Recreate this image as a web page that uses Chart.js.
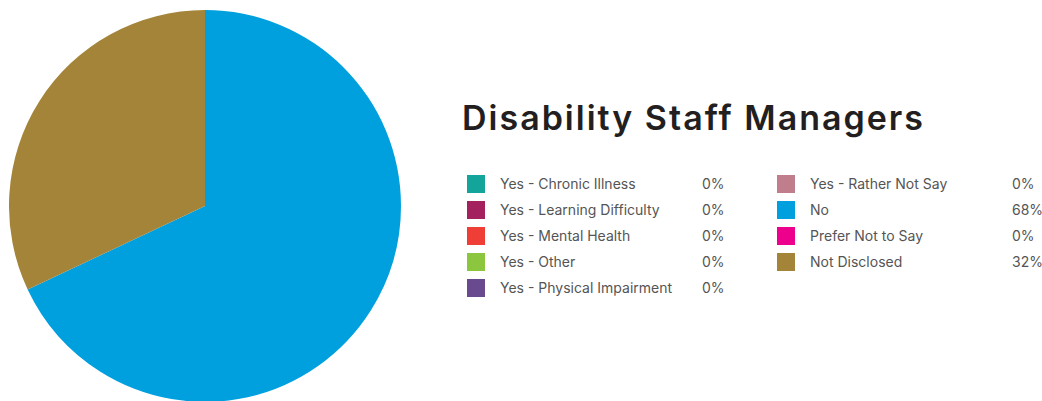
<!DOCTYPE html>
<html>
<head>
<meta charset="utf-8">
<script src="https://cdn.jsdelivr.net/npm/chart.js@4.4.1/dist/chart.umd.min.js"></script>
<style>
  html, body { margin: 0; padding: 0; background: #fff; }
  body { width: 1042px; height: 401px; position: relative; overflow: hidden;
         font-family: 'Inter', 'Liberation Sans', sans-serif; }
  #pieWrap { position: absolute; left: 9px; top: 10px; width: 392px; height: 392px; }
  #title { position: absolute; left: 462px; top: 97px; margin: 0;
           font-size: 34px; font-weight: 600; color: #231f20; letter-spacing: 2px; white-space: nowrap; }
  .item { position: absolute; height: 18px; font-size: 14px; color: #555; white-space: nowrap; }
  .item .sw { position: absolute; left: 0; top: 0; width: 18px; height: 18px; }
  .item .lbl { position: absolute; left: 33px; top: 0; line-height: 18px; }
  .item .pct { position: absolute; left: 235px; top: 0; line-height: 18px; }
</style>
</head>
<body>
<div id="pieWrap"><canvas id="pieChart"></canvas></div>
<h1 id="title"></h1>
<div id="legend"></div>
<script>
// ── Data ──
var chartTitle = 'Disability Staff Managers';
var categories = [
  'Yes - Chronic Illness', 'Yes - Learning Difficulty', 'Yes - Mental Health',
  'Yes - Other', 'Yes - Physical Impairment', 'Yes - Rather Not Say',
  'No', 'Prefer Not to Say', 'Not Disclosed'
];
var percentages = [0, 0, 0, 0, 0, 0, 68, 0, 32];
var colours = [
  '#13a599', '#a3215f', '#ef3e36', '#8cc63f', '#6a4a8e', '#c07d8c',
  '#00a0df', '#ec008c', '#a38439'
];

// ── Pie ──
new Chart(document.getElementById('pieChart'), {
  type: 'pie',
  data: {
    labels: categories,
    datasets: [{
      data: percentages,
      backgroundColor: colours,
      borderWidth: 0
    }]
  },
  options: {
    responsive: true,
    maintainAspectRatio: false,
    animation: false,
    layout: { padding: 0 },
    plugins: { legend: { display: false }, tooltip: { enabled: false } }
  }
});

// ── Legend (two columns, 5 rows max) ──
var legend = document.getElementById('legend');
document.getElementById('title').textContent = chartTitle;
categories.forEach(function(name, i) {
  var col = i < 5 ? 0 : 1;
  var row = i < 5 ? i : i - 5;
  var el = document.createElement('div');
  el.className = 'item';
  el.style.left = (467 + col * 310) + 'px';
  el.style.top = (175 + row * 26) + 'px';
  el.innerHTML = '<span class="sw" style="background:' + colours[i] + '"></span>' +
    '<span class="lbl">' + name + '</span>' +
    '<span class="pct">' + percentages[i] + '%</span>';
  legend.appendChild(el);
});
</script>
</body>
</html>
